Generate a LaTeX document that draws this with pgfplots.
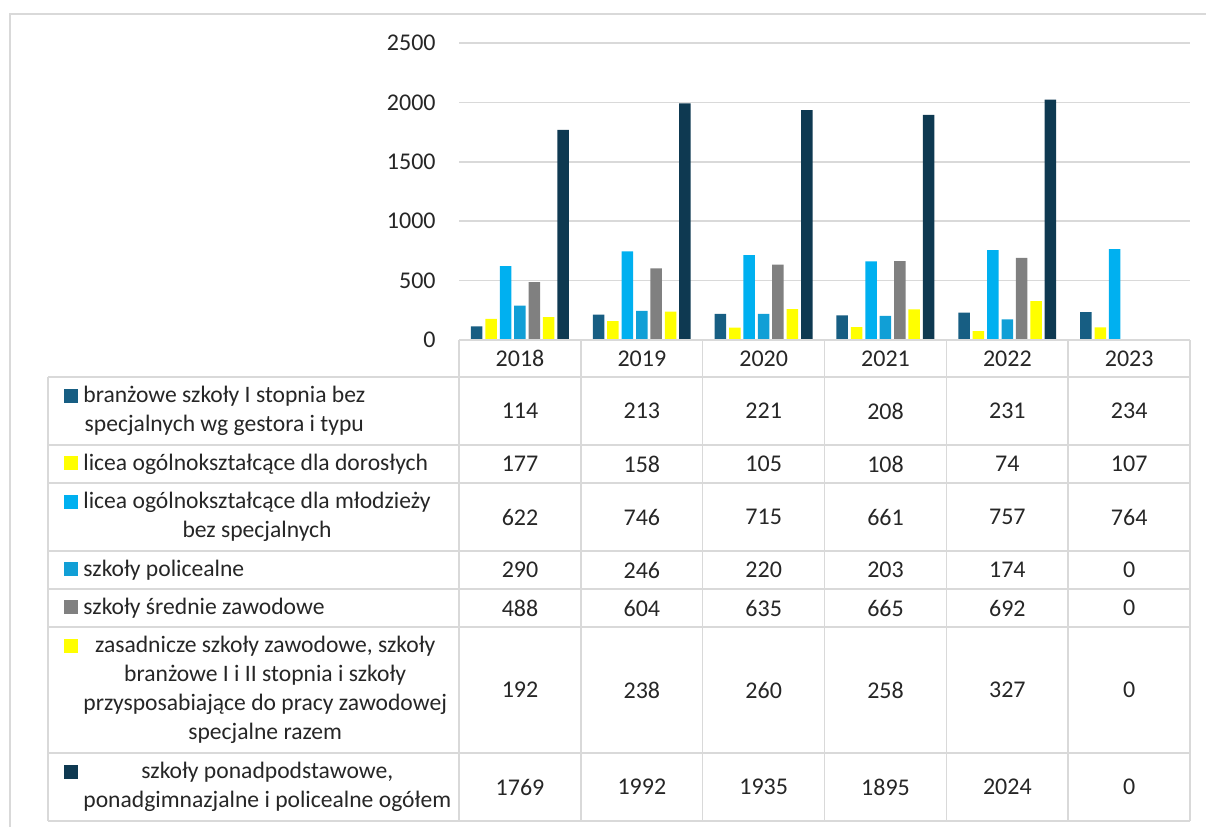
\documentclass[border=0pt]{standalone}
\usepackage{pgfplots}
\pgfplotsset{compat=1.18}
\usepackage{pgfplotstable}
\usepackage{fontspec}
\setmainfont{Carlito}

\definecolor{branz}{RGB}{23,94,131}
\definecolor{yel}{RGB}{255,255,0}
\definecolor{lblue}{RGB}{0,176,240}
\definecolor{mblue}{RGB}{17,159,214}
\definecolor{gry}{RGB}{128,128,128}
\definecolor{navy}{RGB}{14,57,81}
\definecolor{rule}{RGB}{217,217,217}
\definecolor{txt}{RGB}{38,38,38}

% liczba uczniow wg typu szkoly
\pgfplotstableread{
idx year s1 s2 s3 s4 s5 s6 s7
0 2018 114 177 622 290 488 192 1769
1 2019 213 158 746 246 604 238 1992
2 2020 221 105 715 220 635 260 1935
3 2021 208 108 661 203 665 258 1895
4 2022 231 74 757 174 692 327 2024
5 2023 234 107 764 0 0 0 0
}\schools

\begin{document}
\begin{tikzpicture}[font=\fontsize{11.8}{14.5}\selectfont, text=txt]
\begin{scope}[x=0.5pt,y=-0.5pt]
  \useasboundingbox (0,0) rectangle (1206,826);
  \draw[rule,line width=1pt] (10,840) -- (10,14) -- (1220,14);
\end{scope}

\begin{axis}[
  at={(229.5pt,-170pt)}, anchor=south west,
  scale only axis, width=365.5pt, height=148.5pt,
  xmin=-0.5, xmax=5.5, ymin=0, ymax=2500,
  ybar=1.45pt, bar width=5.75pt,
  axis line style={draw=none},
  xtick=\empty, ytick={0,500,...,2500},
  major tick length=0pt,
  ymajorgrids, grid style={rule, line width=0.75pt},
  yticklabel style={inner sep=0pt, xshift=-11.5pt, text=txt,
    font=\fontsize{12}{14.5}\selectfont},
  /pgf/number format/assume math mode=true,
  /pgf/number format/1000 sep={},
]
\addplot[fill=branz, draw=none] table[x=idx,y=s1]{\schools};
\addplot[fill=yel, draw=none] table[x=idx,y=s2]{\schools};
\addplot[fill=lblue, draw=none] table[x=idx,y=s3]{\schools};
\addplot[fill=mblue, draw=none] table[x=idx,y=s4]{\schools};
\addplot[fill=gry, draw=none] table[x=idx,y=s5]{\schools};
\addplot[fill=yel, draw=none] table[x=idx,y=s6]{\schools};
\addplot[fill=navy, draw=none] table[x=idx,y=s7]{\schools};
\end{axis}

\begin{scope}[x=0.5pt,y=-0.5pt]
  % siatka tabeli
  \begin{scope}[draw=rule, line width=0.8pt]
    \foreach \k in {0,...,6} \draw (459+121.833*\k,340) -- (459+121.833*\k,821);
    \draw (459,340) -- (1190,340);
    \foreach \y in {377,445,483,551,589,627,753,821} \draw (48,\y) -- (1190,\y);
    \draw (48,377) -- (48,821);
  \end{scope}
  % wartosci
  \foreach \r in {0,...,5}{
    \pgfplotstablegetelem{\r}{year}\of\schools
    \node[font=\fontsize{12}{14.5}\selectfont] at (520+121.833*\r,358.5) {\pgfplotsretval};
    \foreach \c/\yc in {s1/411,s2/464,s3/517,s4/570,s5/608,s6/690,s7/787}{
      \pgfplotstablegetelem{\r}{\c}\of\schools
      \node[font=\fontsize{12}{14.5}\selectfont] at (520+121.833*\r,\yc) {\pgfplotsretval};
    }
  }
  % legenda
  \fill[branz] (64,389) rectangle (78,403);
  \fill[yel] (64,456) rectangle (78,470);
  \fill[lblue] (64,495) rectangle (78,509);
  \fill[mblue] (64,562) rectangle (78,576);
  \fill[gry] (64,600) rectangle (78,614);
  \fill[yel] (64,639) rectangle (78,653);
  \fill[navy] (64,765) rectangle (78,779);
  \begin{scope}[every node/.style={anchor=west, align=center, inner sep=0pt}]
    \node at (83,411) {branżowe szkoły I stopnia bez\\specjalnych wg gestora i typu};
    \node at (83,464) {licea ogólnokształcące dla dorosłych};
    \node at (83,517) {licea ogólnokształcące dla młodzieży\\bez specjalnych};
    \node at (83,570) {szkoły policealne};
    \node at (83,608) {szkoły średnie zawodowe};
    \node at (83,690) {zasadnicze szkoły zawodowe, szkoły\\branżowe I i II stopnia i szkoły\\przysposabiające do pracy zawodowej\\specjalne razem};
    \node at (83,787) {szkoły ponadpodstawowe,\\ponadgimnazjalne i policealne ogółem};
  \end{scope}
\end{scope}
\end{tikzpicture}
\end{document}
